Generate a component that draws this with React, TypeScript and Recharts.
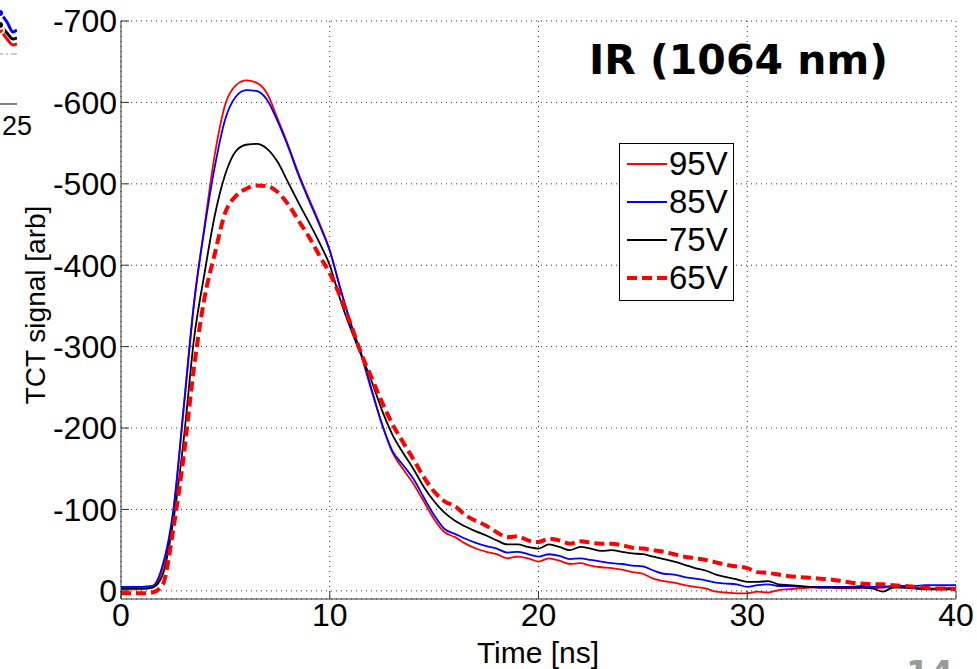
import React from 'react'
import {
  LineChart,
  Line,
  XAxis,
  YAxis,
  CartesianGrid,
  Legend,
  ReferenceLine,
} from 'recharts'

// Time axis [ns]
const TIME = [
  0, 0.5, 1, 1.5, 2, 2.5, 3, 3.5, 4, 4.5, 5, 5.5, 6, 6.5, 7, 7.5, 8, 8.5, 9, 9.5,
  10, 10.5, 11, 11.5, 12, 12.5, 13, 13.5, 14, 14.5, 15, 15.5, 16, 16.5, 17, 17.5, 18, 18.5, 19, 19.5,
  20, 20.5, 21, 21.5, 22, 22.5, 23, 23.5, 24, 24.5, 25, 25.5, 26, 26.5, 27, 27.5, 28, 28.5, 29, 29.5,
  30, 30.5, 31, 31.5, 32, 32.5, 33, 33.5, 34, 34.5, 35, 35.5, 36, 36.5, 37, 37.5, 38, 38.5, 39, 39.5, 40,
]

// TCT signal [arb] per bias voltage
const V95 = [
  -2, -2, -2, -4, -28, -95, -222, -352, -448, -537, -598, -621, -627, -624, -611, -580, -548, -513, -482, -452,
  -418, -372, -330, -290, -246, -205, -170, -150, -132, -110, -88, -72, -66, -58, -52, -48, -45, -40, -42, -40,
  -36, -40, -37, -33, -34, -31, -29, -28, -26, -23, -21, -15, -12, -10, -7, -5, -3, 1, 2, 3,
  3, 1, 2, -1, -2, -3, -4, -4, -4, -3, -3, -4, -3, -4, -5, -4, -4, -3, -3, -4, -4,
]
const V85 = [
  -5, -5, -5, -6, -32, -98, -225, -355, -445, -522, -580, -607, -615, -614, -603, -577, -546, -511, -480, -450,
  -418, -372, -328, -292, -248, -205, -172, -155, -138, -115, -93, -76, -70, -64, -59, -55, -52, -47, -48, -45,
  -42, -45, -43, -39, -40, -38, -36, -34, -33, -31, -30, -25, -21, -20, -17, -15, -13, -10, -9, -8,
  -5, -7, -8, -6, -6, -5, -5, -5, -5, -5, -5, -6, -5, -5, -6, -6, -6, -7, -7, -7, -7,
]
const V75 = [
  -3, -3, -3, -4, -20, -85, -185, -310, -390, -462, -512, -540, -548, -549, -543, -527, -502, -477, -453, -428,
  -400, -358, -322, -290, -258, -222, -192, -170, -150, -128, -110, -96, -86, -79, -73, -68, -62, -57, -57, -54,
  -52, -57, -54, -50, -54, -52, -49, -50, -48, -46, -45, -42, -39, -36, -32, -28, -25, -20, -17, -14,
  -11, -11, -12, -8, -7, -6, -5, -4, -4, -4, -4, -4, -3, 1, -4, -4, -3, -2, -2, -2, -2,
]
const V65 = [
  3, 3, 3, 2, -8, -75, -165, -275, -360, -415, -465, -485, -494, -498, -497, -490, -475, -455, -435, -412,
  -390, -362, -328, -292, -262, -232, -205, -183, -162, -140, -122, -110, -104, -93, -86, -80, -72, -66, -67, -62,
  -60, -64, -62, -58, -61, -59, -58, -58, -56, -53, -52, -50, -48, -45, -42, -40, -38, -35, -32, -30,
  -28, -23, -22, -20, -18, -17, -16, -15, -14, -12, -10, -9, -8, -8, -7, -6, -5, -4, -3, -3, -2,
]

const X_TICKS = [0, 10, 20, 30, 40]
const Y_TICKS = [-700, -600, -500, -400, -300, -200, -100, 0]

// cropped neighbour plot at the top-left edge
const INSET_T = [20, 22, 23.3, 24, 24.6, 25]
const INSET_BLUE = [-100, -97, -91, -82, -72, -74]
const INSET_BLACK = [-88, -84, -79, -71, -65, -66]
const INSET_RED = [-83, -79, -74, -65, -59, -60]

const SERIES = [
  { key: 'v95', name: '95V', color: '#ff0000', width: 1.8, dash: undefined },
  { key: 'v85', name: '85V', color: '#0000ff', width: 1.8, dash: undefined },
  { key: 'v75', name: '75V', color: '#000000', width: 1.8, dash: undefined },
  { key: 'v65', name: '65V', color: '#ff0000', width: 4, dash: '10 5' },
]

const FONT = '"Liberation Sans", Arial, sans-serif'

function renderLegend() {
  return (
    <div
      style={{
        width: 115,
        height: 158,
        boxSizing: 'border-box',
        border: '1px solid #000',
        background: '#fff',
        paddingTop: 1,
        fontFamily: FONT,
      }}
    >
      {SERIES.map((s) => (
        <div key={s.key} style={{ display: 'flex', alignItems: 'center', height: 38, paddingLeft: 7 }}>
          <svg width={40} height={10} style={{ display: 'block' }}>
            <line x1={0} y1={5} x2={40} y2={5} stroke={s.color} strokeWidth={s.dash ? 4 : 1.8} strokeDasharray={s.dash} />
          </svg>
          <span style={{ marginLeft: 2, fontSize: 33, lineHeight: '38px', color: '#000' }}>{s.name}</span>
        </div>
      ))}
    </div>
  )
}

export default function App() {
  const data = TIME.map((t, i) => ({ t, v95: V95[i], v85: V85[i], v75: V75[i], v65: V65[i] }))
  const insetData = INSET_T.map((t, i) => ({ t, blue: INSET_BLUE[i], black: INSET_BLACK[i], red: INSET_RED[i] }))

  return (
    <div
      style={{
        position: 'absolute',
        left: 0,
        top: 0,
        width: 977,
        height: 669,
        overflow: 'hidden',
        background: '#fff',
        fontFamily: FONT,
      }}
    >
      <LineChart width={977} height={669} data={data} margin={{ top: 21, right: 21, left: 0, bottom: 0 }}>
        <CartesianGrid stroke="#333" strokeDasharray="1 4" />
        <XAxis
          dataKey="t"
          type="number"
          domain={[0, 40]}
          ticks={X_TICKS}
          allowDataOverflow
          interval={0}
          height={70}
          tickSize={-8}
          tickMargin={12}
          stroke="#333"
          tick={{ fill: '#000', fontSize: 32, fontFamily: FONT }}
          label={{
            content: () => (
              <text x={538} y={663} textAnchor="middle" fontSize={30} fontFamily={FONT} fill="#000">
                Time [ns]
              </text>
            ),
          }}
        />
        <XAxis
          xAxisId="top"
          orientation="top"
          dataKey="t"
          type="number"
          domain={[0, 40]}
          ticks={X_TICKS}
          allowDataOverflow
          interval={0}
          height={0}
          tickSize={-8}
          tick={false}
          stroke="#333"
        />
        <YAxis
          type="number"
          domain={[-700, 10]}
          reversed
          ticks={Y_TICKS}
          allowDataOverflow
          interval={0}
          width={121}
          tickSize={-8}
          tickMargin={12}
          stroke="#333"
          tick={{ fill: '#000', fontSize: 32, fontFamily: FONT }}
          label={{
            content: () => (
              <text
                x={35}
                y={305}
                transform="rotate(-90, 35, 305)"
                textAnchor="middle"
                dominantBaseline="central"
                fontSize={28}
                fontFamily={FONT}
                fill="#000"
              >
                TCT signal [arb]
              </text>
            ),
          }}
        />
        <YAxis
          yAxisId="right"
          orientation="right"
          type="number"
          domain={[-700, 10]}
          reversed
          ticks={Y_TICKS}
          allowDataOverflow
          interval={0}
          width={0}
          tickSize={-8}
          tick={false}
          stroke="#333"
        />
        <Legend
          layout="vertical"
          align="center"
          verticalAlign="middle"
          content={renderLegend}
          wrapperStyle={{ left: 619, top: 143, width: 115, height: 158 }}
        />
        {SERIES.map((s) => (
          <Line
            key={s.key}
            type="monotone"
            dataKey={s.key}
            name={s.name}
            stroke={s.color}
            strokeWidth={s.width}
            strokeDasharray={s.dash}
            dot={false}
            isAnimationActive={false}
          />
        ))}
      </LineChart>

      <div style={{ position: 'absolute', left: -183, top: 0 }}>
        <LineChart width={240} height={140} data={insetData} margin={{ top: 0, right: 40, left: 0, bottom: 0 }}>
          <XAxis
            dataKey="t"
            type="number"
            domain={[5, 25]}
            ticks={[25]}
            allowDataOverflow
            interval={0}
            height={36}
            tickLine={false}
            tickMargin={6}
            stroke="#000"
            tick={{ fill: '#000', fontSize: 27, fontFamily: FONT }}
          />
          <YAxis
            orientation="right"
            type="number"
            domain={[-104, 0]}
            reversed
            ticks={[-50]}
            allowDataOverflow
            width={0}
            tickSize={-9}
            tick={false}
            stroke="#000"
          />
          <ReferenceLine y={-50} stroke="#999" strokeDasharray="6 3 2 3" />
          <Line type="monotone" dataKey="red" stroke="#ff0000" strokeWidth={3} dot={false} isAnimationActive={false} />
          <Line type="monotone" dataKey="black" stroke="#000000" strokeWidth={3} dot={false} isAnimationActive={false} />
          <Line type="monotone" dataKey="blue" stroke="#0000ff" strokeWidth={3} dot={false} isAnimationActive={false} />
        </LineChart>
      </div>

      <div
        style={{
          position: 'absolute',
          left: 589,
          top: 40,
          fontFamily: '"DejaVu Sans", sans-serif',
          fontWeight: 'bold',
          fontSize: 41,
          lineHeight: '41px',
          color: '#000',
          whiteSpace: 'nowrap',
        }}
      >
        IR (1064 nm)
      </div>

      <div
        style={{
          position: 'absolute',
          left: 906,
          top: 656,
          fontFamily: '"DejaVu Sans", sans-serif',
          fontWeight: 'bold',
          fontSize: 34,
          lineHeight: '34px',
          color: '#9a9a9a',
        }}
      >
        14
      </div>
    </div>
  )
}
